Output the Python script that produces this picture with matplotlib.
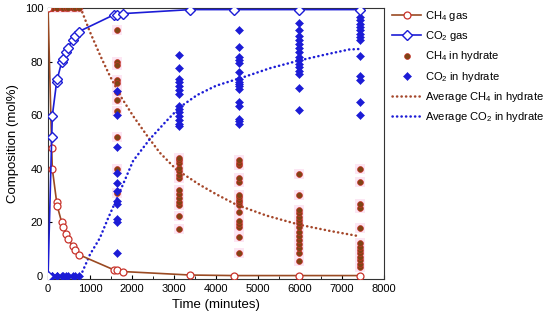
import matplotlib.pyplot as plt
import numpy as np

plt.rcParams['font.family'] = ['Liberation Sans', 'DejaVu Sans']
plt.rcParams['mathtext.fontset'] = 'custom'
plt.rcParams['mathtext.rm'] = 'Liberation Sans'
plt.rcParams['mathtext.it'] = 'Liberation Sans:italic'

# gas phase composition
t_gas = [0, 88, 102, 206, 221, 325, 349, 427, 468, 586, 648, 736, 1574, 1645, 1787, 3387, 4439, 5981, 7429]
ch4_gas = [100, 47.6, 40.0, 27.5, 26.0, 20.0, 18.1, 15.7, 13.9, 11.2, 9.5, 7.9, 2.2, 2.0, 1.6, 0.3, 0.1, 0.1, 0.1]
co2_gas = [0, 51.9, 59.7, 72.5, 73.5, 79.8, 81.0, 83.5, 85.0, 88.2, 89.7, 91.2, 97.5, 97.5, 97.9, 99.4, 99.4, 99.4, 99.4]

# hydrate phase composition (one list per sampling time)
t_hyd = [0, 88, 102, 206, 221, 325, 349, 427, 468, 586, 648, 736, 1650, 3117, 4541, 5981, 7429]
ch4_hyd = [
    [100], [100], [100], [100], [100], [100], [100], [100], [100], [100], [100], [100],
    [91.6, 80.0, 78.7, 73.0, 72.0, 68.5, 65.5, 61.6, 52.0, 40.0, 31.0],
    [17.4, 22.4, 26.5, 27.7, 29.2, 30.5, 32.1, 36.5, 37.8, 39.0, 40.2, 42.0, 43.2, 44.1],
    [8.4, 14.4, 18.4, 19.4, 20.5, 24.0, 26.5, 27.5, 28.4, 29.3, 30.3, 35.2, 36.7, 41.3, 42.2, 43.2],
    [5.5, 8.4, 10.3, 11.8, 13.4, 15.0, 16.5, 18.4, 19.6, 20.9, 22.1, 23.4, 24.6, 30.0, 38.1],
    [3.4, 4.6, 5.9, 7.1, 8.4, 9.6, 10.9, 12.1, 18.0, 25.4, 26.7, 35.0, 40.0],
]
co2_hyd = [
    [0], [0], [0], [0], [0], [0], [0], [0], [0], [0], [0], [0],
    [8.4, 20.0, 21.3, 27.0, 28.0, 31.5, 34.5, 38.4, 48.0, 60.0, 69.0],
    [82.6, 77.6, 73.5, 72.3, 70.8, 69.5, 67.9, 63.5, 62.2, 61.0, 59.8, 58.0, 56.8, 55.9],
    [91.6, 85.6, 81.6, 80.6, 79.5, 76.0, 73.5, 72.5, 71.6, 70.7, 69.7, 64.8, 63.3, 58.7, 57.8, 56.8],
    [94.5, 91.6, 89.7, 88.2, 86.6, 85.0, 83.5, 81.6, 80.4, 79.1, 77.9, 76.6, 75.4, 70.0, 61.9],
    [96.6, 95.4, 94.1, 92.9, 91.6, 90.4, 89.1, 87.9, 82.0, 74.6, 73.3, 65.0, 60.0],
]

# average hydrate composition curves
t_avg_ch4 = [776, 1000, 1250, 1470, 1750, 2025, 2350, 2660, 3054, 3600, 4000, 4478, 5200, 5981, 6700, 7405]
avg_ch4 = [100, 91, 82, 74.7, 66.5, 59.7, 52.5, 46.0, 39.7, 34.1, 30.5, 26.6, 22.5, 19.1, 16.8, 14.8]
t_avg_co2 = [776, 1000, 1234, 1430, 1630, 2025, 2421, 2800, 3133, 3550, 4004, 4716, 5300, 5981, 6600, 7168, 7429]
avg_co2 = [0, 8, 14.1, 21.5, 28.5, 42.9, 51.0, 57.5, 62.9, 67.5, 71.0, 74.5, 77.6, 80.4, 82.6, 84.5, 84.7]

brown = '#9a4a22'
red_edge = '#c8322a'
blue = '#1c1cd6'

fig = plt.figure(figsize=(5.5, 3.26), dpi=100)
ax = fig.add_axes([0.0873, 0.144, 0.611, 0.8315])

# flatten hydrate points
xs_ch4, ys_ch4, xs_co2, ys_co2 = [], [], [], []
for t, a, b in zip(t_hyd, ch4_hyd, co2_hyd):
    xs_ch4 += [t] * len(a)
    ys_ch4 += a
    xs_co2 += [t] * len(b)
    ys_co2 += b

dots = (0, (0.1, 1.7))

ax.scatter(xs_ch4, ys_ch4, s=50, marker='s', color='#fce6f3', linewidths=0, zorder=1)
ax.plot(t_gas, ch4_gas, '-', color=brown, lw=1.2, marker='o', ms=5,
        mfc='white', mec=red_edge, mew=0.9, label='CH$_4$ gas', zorder=4)
ax.plot(t_gas, co2_gas, '-', color=blue, lw=1.2, marker='D', ms=5,
        mfc='white', mec=blue, mew=1.0, label='CO$_2$ gas', zorder=4)
ax.plot(xs_ch4, ys_ch4, 'o', ms=4.2, color='#7f4515', mec=red_edge, mew=0.5,
        label='CH$_4$ in hydrate', zorder=3)
ax.plot(xs_co2, ys_co2, 'D', ms=3.8, color=blue, mec=blue, mew=0.4,
        label='CO$_2$ in hydrate', zorder=3)
ax.plot(t_avg_ch4, avg_ch4, color='#a5472a', lw=1.8, ls=dots,
        dash_capstyle='round', label='Average CH$_4$ in hydrate', zorder=2)
ax.plot(t_avg_co2, avg_co2, color=blue, lw=1.8, ls=dots,
        dash_capstyle='round', label='Average CO$_2$ in hydrate', zorder=2)

ax.set_xlim(0, 8000)
ax.set_ylim(-1.2, 100)
ax.set_xticks(np.arange(0, 8001, 1000))
ax.set_xticks(np.arange(0, 8001, 500), minor=True)
ax.set_yticks(np.arange(0, 101, 20))
ax.tick_params(direction='in', labelsize=8, length=3, width=0.8)
ax.tick_params(which='minor', direction='in', length=2)
for s in ax.spines.values():
    s.set_color('#333333')
ax.set_xlabel('Time (minutes)', fontsize=9.5)
ax.set_ylabel('Composition (mol%)', fontsize=9.5)

ax.legend(loc='upper left', bbox_to_anchor=(1.005, 1.02), frameon=False,
          fontsize=8, handlelength=2.6, handletextpad=0.3, labelspacing=0.55,
          borderaxespad=0.2)

fig.savefig('out.png', dpi=100)
